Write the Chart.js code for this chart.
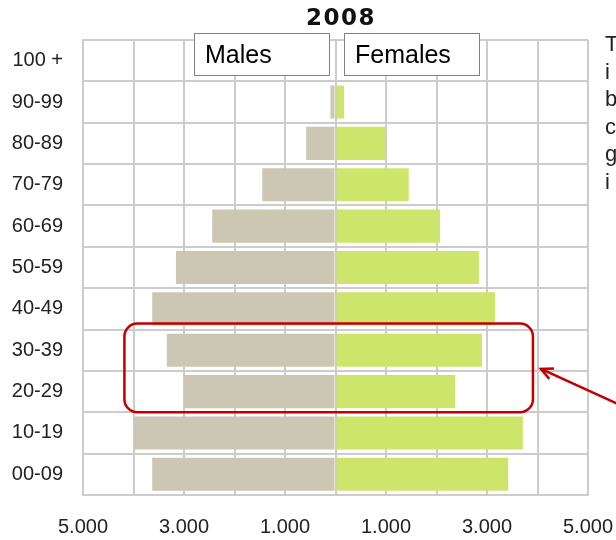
<!DOCTYPE html>
<html>
<head>
<meta charset="utf-8">
<script src="https://cdn.jsdelivr.net/npm/chart.js@4/dist/chart.umd.min.js"></script>
<style>
  html, body { margin: 0; padding: 0; background: #fff; overflow: hidden; }
  #wrap { position: relative; width: 616px; height: 540px; }
  #c { position: absolute; left: 0; top: 0; }
  .title { position: absolute; top: 4px; left: 291px; width: 100px; text-align: center;
           font-family: "DejaVu Sans", sans-serif; font-weight: bold; font-size: 23px; letter-spacing: 1.5px; color: #111; }
  .lbox { position: absolute; top: 33px; height: 41px; background: #fff; border: 1px solid #808080;
          font-family: "Liberation Sans", Arial, sans-serif; font-size: 25px; color: #000; line-height: 41px; padding-left: 10px; box-sizing: content-box; }
  .side { position: absolute; left: 605px; top: 30px; font-family: "Liberation Sans", Arial, sans-serif;
          font-size: 22px; line-height: 27.5px; color: #222; white-space: nowrap; }
</style>
</head>
<body>
<div id="wrap">
  <canvas id="c" width="616" height="540"></canvas>
  <div class="title">2008</div>
  <div class="lbox" style="left:194px; width:124px;">Males</div>
  <div class="lbox" style="left:344px; width:124px;">Females</div>
  <div class="side">T<br>i<br>b<br>c<br>g<br>i</div>
</div>
<script>
const ageGroups = ["100 +", "90-99", "80-89", "70-79", "60-69", "50-59", "40-49", "30-39", "20-29", "10-19", "00-09"];
const males   = [0, 100, 580, 1450, 2440, 3160, 3630, 3340, 3000, 3990, 3630];
const females = [0, 170, 1000, 1450, 2070, 2840, 3160, 2900, 2370, 3710, 3420];
const xTickValues = [-5000, -3000, -1000, 1000, 3000, 5000];
const xTickLabels = ["5.000", "3.000", "1.000", "1.000", "3.000", "5.000"];
const highlighted = ["30-39", "20-29"];

const highlightPlugin = {
  id: 'highlight',
  afterDraw(chart) {
    const ctx = chart.ctx;
    const xs = chart.scales.x, ys = chart.scales.y;
    const i0 = ageGroups.indexOf(highlighted[0]);
    const i1 = ageGroups.indexOf(highlighted[1]);
    const band = ys.getPixelForValue(1) - ys.getPixelForValue(0);
    const top = ys.getPixelForValue(i0) - band / 2 - 6;
    const bottom = ys.getPixelForValue(i1) + band / 2;
    const left = xs.getPixelForValue(-4180);
    const right = xs.getPixelForValue(3910);
    const r = 13;
    ctx.save();
    ctx.strokeStyle = '#c00000';
    ctx.lineWidth = 2.5;
    ctx.beginPath();
    ctx.roundRect(left, top, right - left, bottom - top, r);
    ctx.stroke();
    const tipX = right + 8, tipY = (top + bottom) / 2 + 1;
    const tailX = 620, tailY = tipY + 36;
    ctx.beginPath();
    ctx.moveTo(tailX, tailY);
    ctx.lineTo(tipX, tipY);
    ctx.stroke();
    const ang = Math.atan2(tailY - tipY, tailX - tipX);
    const hl = 13, ha = 0.45;
    ctx.beginPath();
    ctx.moveTo(tipX + hl * Math.cos(ang - ha), tipY + hl * Math.sin(ang - ha));
    ctx.lineTo(tipX, tipY);
    ctx.lineTo(tipX + hl * Math.cos(ang + ha), tipY + hl * Math.sin(ang + ha));
    ctx.stroke();
    ctx.restore();
  }
};

const tickFont = { family: '"Liberation Sans", Arial, sans-serif', size: 20 };
const gridColor = '#cccccc';

new Chart(document.getElementById('c'), {
  type: 'bar',
  data: {
    labels: ageGroups,
    datasets: [
      { label: 'Males', data: males.map(v => -v), backgroundColor: '#ccc7b2', borderWidth: 0,
        barPercentage: 0.8, categoryPercentage: 1.0 },
      { label: 'Females', data: females, backgroundColor: '#cee56b', borderWidth: 0,
        barPercentage: 0.8, categoryPercentage: 1.0 }
    ]
  },
  options: {
    indexAxis: 'y',
    responsive: false,
    animation: false,
    layout: { padding: { top: 40, right: 28, left: 0, bottom: 0 } },
    plugins: { legend: { display: false }, tooltip: { enabled: false }, title: { display: false } },
    scales: {
      x: {
        stacked: true,
        min: -5000, max: 5000,
        afterFit(s) { s.height = 45; s.paddingLeft = 0; s.paddingRight = 0; },
        afterBuildTicks(s) {
          s.ticks = [];
          for (let v = -5000; v <= 5000; v += 1000) s.ticks.push({ value: v });
        },
        grid: { color: gridColor, lineWidth: 2, drawTicks: false },
        border: { color: gridColor, width: 2 },
        ticks: {
          font: tickFont, color: '#222', padding: 20, maxRotation: 0, autoSkip: false,
          callback(v) { const i = xTickValues.indexOf(v); return i >= 0 ? xTickLabels[i] : ''; }
        }
      },
      y: {
        stacked: true,
        afterFit(s) { s.width = 83; s.paddingTop = 0; s.paddingBottom = 0; },
        grid: { color: gridColor, lineWidth: 2, drawTicks: false, offset: true },
        border: { color: gridColor, width: 2 },
        ticks: { font: tickFont, color: '#222', padding: 20, autoSkip: false }
      }
    }
  },
  plugins: [highlightPlugin, {
    id: 'topBorder',
    afterDraw(chart) {
      const a = chart.chartArea, ctx = chart.ctx;
      ctx.save();
      ctx.strokeStyle = gridColor; ctx.lineWidth = 2;
      ctx.beginPath();
      ctx.moveTo(a.left, a.top); ctx.lineTo(a.right, a.top);
      ctx.stroke();
      ctx.restore();
    }
  }]
});
</script>
</body>
</html>
